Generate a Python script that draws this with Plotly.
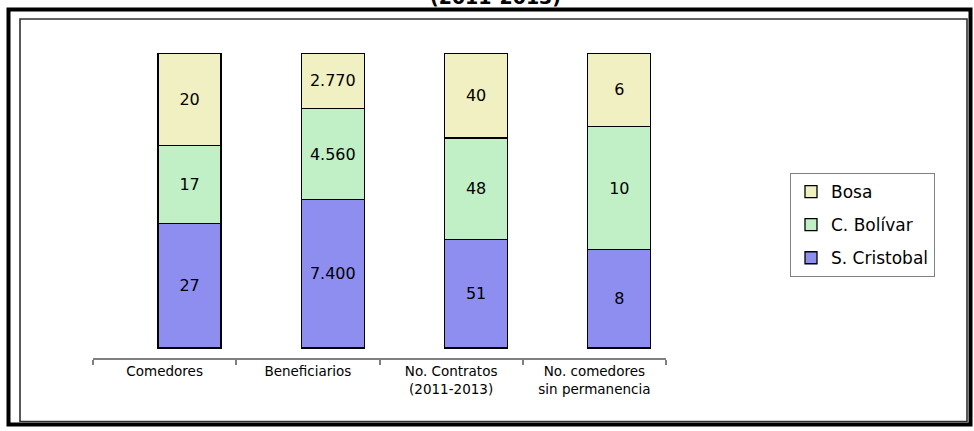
import plotly.graph_objects as go

# ---- data ----
categories = ["Comedores", "Beneficiarios", "No. Contratos<br>(2011-2013)", "No. comedores<br>sin permanencia"]
series_names = ["S. Cristobal", "C. Bolívar", "Bosa"]
s_cristobal = [27, 7400, 51, 8]
c_bolivar = [17, 4560, 48, 10]
bosa = [20, 2770, 40, 6]
title_text = "(2011-2013)"

series_values = [s_cristobal, c_bolivar, bosa]
legend_ranks = [3, 2, 1]
colors = ["#8E8EF0", "#C2F0C6", "#F0F0C2"]

# ---- layout geometry (pixels) ----
W, H = 974, 431
L, R, T, B = 93, 308, 53, 73
PW, PH = W - L - R, H - T - B


def px_x(x):
    return (x - L) / PW


def px_y(y):
    return (H - B - y) / PH


def fmt(v):
    return f"{v:,}".replace(",", ".")


FONT = "DejaVu Sans"

fig = go.Figure()
for name, vals, col, rank in zip(series_names, series_values, colors, legend_ranks):
    fig.add_trace(go.Bar(
        x=categories,
        y=vals,
        name=name,
        legendgroup=name,
        legendrank=rank,
        text=[fmt(v) for v in vals],
        texttemplate="%{text}",
        textposition="inside",
        insidetextanchor="middle",
        textangle=0,
        constraintext="none",
        textfont=dict(family=FONT, size=16, color="black"),
        marker=dict(color=col, line=dict(color="black", width=1.3)),
        width=0.44,
        offset=-0.046,
        hoverinfo="skip",
    ))

frame_shapes = [
    # outer thick border
    dict(type="rect", xref="paper", yref="paper",
         x0=px_x(8.5), x1=px_x(970.5), y0=px_y(9.5), y1=px_y(424.5),
         line=dict(color="black", width=4), fillcolor="rgba(0,0,0,0)", layer="above"),
    # inner thin frame
    dict(type="rect", xref="paper", yref="paper",
         x0=px_x(20), x1=px_x(967), y0=px_y(19), y1=px_y(421.5),
         line=dict(color="#303030", width=1.6), fillcolor="rgba(0,0,0,0)", layer="above"),
]

fig.update_layout(
    width=W, height=H,
    margin=dict(l=L, r=R, t=T, b=B, pad=0),
    paper_bgcolor="white", plot_bgcolor="white",
    barmode="stack", barnorm="percent",
    showlegend=True,
    legend=dict(
        x=px_x(790), y=px_y(173), xanchor="left", yanchor="top",
        font=dict(family=FONT, size=17, color="black"),
        bordercolor="#808080", borderwidth=1, bgcolor="white",
        traceorder="grouped", tracegroupgap=8,
    ),
    xaxis=dict(
        type="category", range=[-0.5, 3.5],
        showline=True, linecolor="#808080", linewidth=1.5,
        ticks="outside", tickson="boundaries", ticklen=5, tickcolor="#808080", tickwidth=1.5,
        tickfont=dict(family=FONT, size=13.5, color="black"),
        showgrid=False, zeroline=False,
    ),
    yaxis=dict(range=[-3.4, 100], visible=False, showgrid=False, zeroline=False),
    shapes=frame_shapes,
    annotations=[dict(
        text="<b>" + title_text + "</b>", xref="paper", yref="paper",
        x=px_x(496), y=px_y(-3), xanchor="center", yanchor="middle",
        showarrow=False, font=dict(family=FONT, size=19, color="black"),
    )],
)

fig.write_html(
    "out.html",
    config={"displayModeBar": False},
    post_script="document.body.style.margin='0';document.body.style.overflow='hidden';",
)
